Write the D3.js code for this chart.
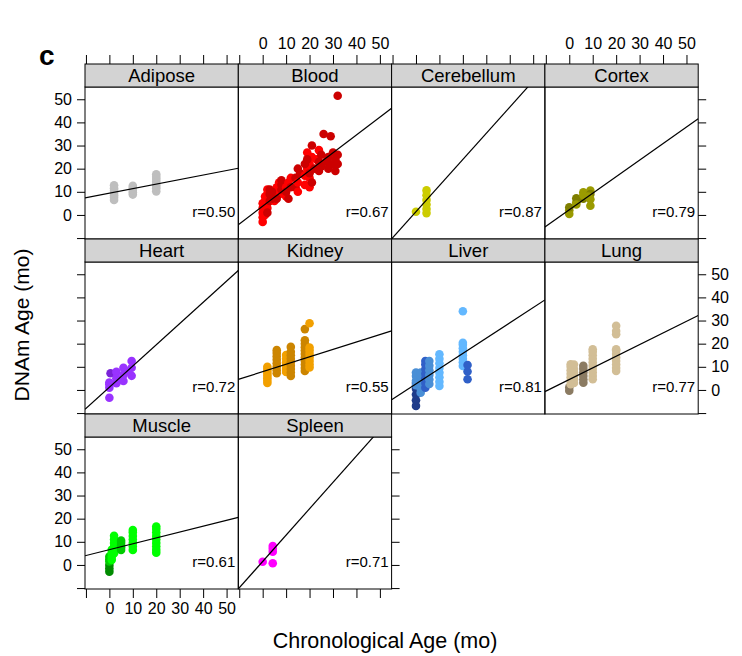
<!DOCTYPE html>
<html>
<head>
<meta charset="utf-8">
<script src="https://cdn.jsdelivr.net/npm/d3@7"></script>
<title>DNAm age by tissue</title>
<style>
  body { margin: 0; background: #fff; }
  text { font-family: "Liberation Sans", Arial, sans-serif; }
</style>
</head>
<body>
<script>
// ---- data ----
var tissues = ["Adipose", "Blood", "Cerebellum", "Cortex", "Heart",
               "Kidney", "Liver", "Lung", "Muscle", "Spleen"];
var rValues = ["0.50", "0.67", "0.87", "0.79", "0.72", "0.55", "0.81", "0.77", "0.61", "0.71"];
var fitIntercept = [9.4, 3.8, 1.4, 2.2, 1.2, 7.9, 2.6, 4.5, 6.6, 1.5];
var fitSlope = [0.196, 0.77, 1.13, 0.716, 0.917, 0.32, 0.66, 0.503, 0.254, 1.14];

var xTicks = [-10, 0, 10, 20, 30, 40, 50];
var yTicks = [-10, 0, 10, 20, 30, 40, 50];

// points: [chronological age, DNAm age, shade]
var adipose = [[2,6.5,0],[2,7.5,0],[2,8.5,0],[2,9.5,0],[2,10.5,0],[2,11.5,0],[2,12.8,0],
  [10,8.8,0],[10,9.8,0],[10,10.8,0],[10,11.8,0],[10,12.6,0],
  [20,10.2,0],[20,11.5,0],[20,12.5,0],[20,13.5,0],[20,14.5,0],[20,15.5,0],[20,16.5,0],[20,17.6,0]];

var blood = [[0,-3,0],[0,-1,0],[0,1,0],[0,3,0],[0,5,0],[1,0,0],[1,2,0],[1,4,0],[1,6,0],[1,8,0],
  [2,3,0],[2,5,0],[2,7,0],[2,9,0],[2,11,0],[2,1,1],[3,6,1],[3,9,1],[3,11,1],
  [5,6,0],[5,8,0],[6,10,0],[6,12,0],[7,9,0],[7,14,0],[4,7,1],[4,10,1],[6,7,1],[8,11,1],[8,13,1],[8,15,1],
  [10,8,0],[10,12,0],[11,14,0],[12,16,0],[10,10,1],[11,7,1],[12,12,1],
  [14,12,1],[14,16,1],[15,20,1],[16,18,1],[15,10,0],[15,14,0],
  [18,13,0],[18,17,0],[19,20,0],[20,12,0],[20,16,0],[20,22,0],[21,25,0],[19,27,0],
  [18,22,1],[19,24,1],[20,18,1],[21,14,1],[22,20,1],[21,30,1],
  [23,24,0],[24,28,0],
  [24,19,1],[24,23,1],[25,21,1],[25,26,1],[26,35,1],[27,23,1],[28,20,1],[28,25,1],[29,34,1],
  [30,22,1],[30,27,1],[31,24,1],[31,19,1],[32,22,1],[32,26,1],[32,51.5,1]];

var cerebellum = [[0,1.4,0],[4.5,0.8,0],[4.5,2.6,0],[4.5,4.5,0],[4.5,6.5,0],[4.5,8.5,0],[4.5,10.6,0]];

var cortex = [[0,0.4,0],[0,2,0],[0,3.3,1],[3,5.5,0],[3,7.2,1],[3,4.5,0],[6,9.8,0],[6,7,1],[6,8.5,0],
  [9,10.5,0],[9,9,1],[9,6.8,0],[9,4,0],[8,8,0]];

var heart = [[0,-3.4,0],[0,1,0],[0,2.5,0],[0,3.2,0],[0.5,7.2,1],[3,7.8,0],[3,2.9,0],[3,5,0],
  [6,9.6,0],[6,3.9,0],[6,6.5,0],[9.5,12.5,0],[9.5,9.6,0],[9.5,6.1,0],[8,8,0]];

var kidney = [[2,3,0],[2,4,0],[2,5,0],[2,6,0],[2,7,0],[2,8,0],[2,9,0],[2,10,0],
  [6,7.2,1],[6,8.5,1],[6,10,1],[6,11.5,1],[6,13,1],[6,14.5,1],[6,16,1],[6,17.2,1],
  [10,7.8,0],[10,9,0],[10,10.5,0],[10,12,0],[10,13.5,0],[10,15.1,0],
  [12,6,1],[12,7.5,1],[12,9,1],[12,10.5,1],[12,12,1],[12,13.5,1],[12,15,1],[12,16.5,1],[12,18.6,1],
  [18,8.2,1],[18,9.5,1],[18,11,1],[18,12.5,1],[18,14,1],[18,15.5,1],[18,17,1],[18,18.5,1],[18,20,1],[18,21.5,1],[18,26.3,1],
  [20,9.7,0],[20,11,0],[20,12.5,0],[20,14,0],[20,15.5,0],[20,17,0],[20,18.3,0],[20,28.8,0]];

var liver = [[0,-6.9,3],[0,-4.5,3],[0,-2,3],[0,0.5,3],[0,3,3],[0,2,1],[0,4,1],[0,6,1],[0,7.5,1],
  [2,-1.2,1],[2,0.5,1],[2,2.5,1],[2,4.5,1],[2,6,1],[2,7.5,1],
  [4,1,2],[4,3,2],[4,5,2],[4,7,2],[4,9,2],[4,11,2],[4,12.5,2],
  [5.7,2.6,1],[5.7,4.5,1],[5.7,6.5,1],[5.7,8.5,1],[5.7,10.5,1],[5.7,12.5,1],
  [10,1.7,0],[10,3.5,0],[10,5.5,0],[10,7.5,0],[10,9.5,0],[10,11.5,0],[10,13.5,0],[10,15.4,0],
  [20,10.4,0],[20,12,0],[20,13.5,0],[20,15,0],[20,16.5,0],[20,18,0],[20,19.5,0],[20,20.4,0],[20,34,0],
  [22,4.6,2],[22,8,2],[22,10.8,2]];

var lung = [[0,-0.3,1],[0,1.1,1],[0.6,2.5,0],[0.6,4,0],[0.6,5.5,0],[0.6,7,0],[0.6,8.5,0],[0.6,10,0],[0.6,11.1,0],
  [2,3,0],[2,4.5,0],[2,6,0],[2,7.5,0],[2,9,0],[2,11,0],
  [6,3.1,1],[6,4.5,1],[6,6,1],[6,7.5,1],[6,9,1],[6,10.4,1],
  [10,4.6,0],[10,6,0],[10,7.5,0],[10,9,0],[10,10.5,0],[10,12,0],[10,13.5,0],[10,15,0],[10,16.5,0],[10,17.6,0],
  [20,8.2,0],[20,9.5,0],[20,11,0],[20,12.5,0],[20,14,0],[20,15.5,0],[20,17,0],[20,17.6,0],[20,24.1,0],[20,25.5,0],[20,27.7,0]];

var muscle = [[0,-2.9,2],[0,-1.5,2],[0,0,2],[0,1.5,1],[0,2.5,1],[0,3.6,1],
  [1,2.2,0],[1,3.5,0],[1,5,0],[1,6.5,0],
  [2,5.1,0],[2,6.5,0],[2,8,0],[2,9.5,0],[2,11,0],[2,12.6,0],
  [5,6.5,1],[5,7.5,1],[5,8.5,1],[5,9.5,1],[5,10.5,1],
  [10,6.5,0],[10,8,0],[10,9.5,0],[10,11,0],[10,12.5,0],[10,14,0],[10,15.1,0],
  [20,5.3,0],[20,6.5,0],[20,8,0],[20,9.5,0],[20,11,0],[20,12.5,0],[20,14,0],[20,15.5,0],[20,16.6,0]];

var spleen = [[0,1.4,0],[4.3,0.7,0],[4.3,5.7,0],[4.3,7,0],[4.3,8.2,0]];

var tissuePoints = [adipose, blood, cerebellum, cortex, heart, kidney, liver, lung, muscle, spleen];

// colour shades per tissue
var tissueColors = [
  ["#bebebe"],
  ["#ff0000", "#cc0000"],
  ["#cccc00"],
  ["#9a9a00", "#7f7f00"],
  ["#9933ff", "#7a22d8"],
  ["#f2a000", "#cc8500"],
  ["#63b8ff", "#4a8fd6", "#3060c8", "#1f3c8a"],
  ["#d2be96", "#8b7b62"],
  ["#00ff00", "#00cc00", "#008b00"],
  ["#ff00ff"]
];

// ---- layout ----
var W = 742, H = 656;
var left = 85, colW = 153.3, top0 = 64, rowH = 175, stripH = 23, panelH = 152;
var nCol = 4;

var svg = d3.select("body").append("svg")
  .attr("width", W).attr("height", H);

var x = d3.scaleLinear().domain([-10.4, 55]).range([0, colW]);
var y = d3.scaleLinear().domain([-10.4, 55.3]).range([panelH, 0]);

function label(d) { return d < 0 ? "" : d; }

function styleAxis(g) {
  g.select(".domain").remove();
  g.selectAll(".tick line").attr("stroke", "#000").attr("stroke-width", 1);
  g.selectAll(".tick text").attr("font-size", 16).attr("fill", "#000")
    .attr("font-family", "Liberation Sans, Arial, sans-serif");
}

tissues.forEach(function(name, i) {
  var row = Math.floor(i / nCol), col = i % nCol;
  var gx = left + col * colW;
  var stripTop = top0 + row * rowH;
  var panelTop = stripTop + stripH;

  var g = svg.append("g").attr("transform", "translate(" + gx + "," + panelTop + ")");

  // clip for the panel
  svg.append("clipPath").attr("id", "clip" + i)
    .append("rect").attr("width", colW).attr("height", panelH);

  var inner = g.append("g").attr("clip-path", "url(#clip" + i + ")");

  inner.selectAll("circle")
    .data(tissuePoints[i])
    .enter()
    .append("circle")
    .attr("cx", function(d) { return x(d[0]); })
    .attr("cy", function(d) { return y(d[1]); })
    .attr("r", 4.3)
    .attr("fill", function(d) { return tissueColors[i][d[2]]; });

  var x0 = x.domain()[0], x1 = x.domain()[1];
  inner.append("line")
    .attr("x1", x(x0)).attr("y1", y(fitIntercept[i] + fitSlope[i] * x0))
    .attr("x2", x(x1)).attr("y2", y(fitIntercept[i] + fitSlope[i] * x1))
    .attr("stroke", "#000").attr("stroke-width", 1.2);

  g.append("text")
    .attr("x", colW - 3).attr("y", panelH - 22)
    .attr("text-anchor", "end")
    .attr("font-size", 15)
    .text("r=" + rValues[i]);

  g.append("rect")
    .attr("width", colW).attr("height", panelH)
    .attr("fill", "none").attr("stroke", "#000").attr("stroke-width", 1);

  // strip
  var s = svg.append("g").attr("transform", "translate(" + gx + "," + stripTop + ")");
  s.append("rect").attr("width", colW).attr("height", stripH)
    .attr("fill", "#d3d3d3").attr("stroke", "#000").attr("stroke-width", 1);
  s.append("text")
    .attr("x", colW / 2).attr("y", stripH / 2 + 6.5)
    .attr("text-anchor", "middle").attr("font-size", 18.5)
    .text(name);

  // top axis on first row
  if (row === 0) {
    var axT = d3.axisTop(x).tickValues(xTicks).tickSize(9).tickPadding(6)
      .tickFormat(col % 2 === 1 ? label : function() { return ""; });
    svg.append("g").attr("transform", "translate(" + gx + "," + stripTop + ")")
      .call(axT).call(styleAxis);
  }
  // bottom axis on last row
  if (row === 2) {
    var axB = d3.axisBottom(x).tickValues(xTicks).tickSize(9).tickPadding(5)
      .tickFormat(col % 2 === 0 ? label : function() { return ""; });
    svg.append("g").attr("transform", "translate(" + gx + "," + (panelTop + panelH) + ")")
      .call(axB).call(styleAxis);
  }
  // left axis
  if (col === 0) {
    var axL = d3.axisLeft(y).tickValues(yTicks).tickSize(8).tickPadding(5)
      .tickFormat(row % 2 === 0 ? label : function() { return ""; });
    svg.append("g").attr("transform", "translate(" + gx + "," + panelTop + ")")
      .call(axL).call(styleAxis);
  }
  // right axis on last panel of each row
  var lastInRow = (col === nCol - 1) || (i === tissues.length - 1);
  if (lastInRow) {
    var axR = d3.axisRight(y).tickValues(yTicks).tickSize(8).tickPadding(5)
      .tickFormat(row % 2 === 1 ? label : function() { return ""; });
    svg.append("g").attr("transform", "translate(" + (gx + colW) + "," + panelTop + ")")
      .call(axR).call(styleAxis);
  }
});

// axis titles and panel letter
svg.append("text")
  .attr("x", 385).attr("y", 648)
  .attr("text-anchor", "middle").attr("font-size", 21.5)
  .text("Chronological Age (mo)");

svg.append("text")
  .attr("transform", "translate(29," + (top0 + 1.5 * rowH - stripH / 2 + 10) + ") rotate(-90)")
  .attr("text-anchor", "middle").attr("font-size", 21)
  .text("DNAm Age (mo)");

svg.append("text")
  .attr("x", 39).attr("y", 65)
  .attr("font-size", 28).attr("font-weight", "bold")
  .text("c");
</script>
</body>
</html>
